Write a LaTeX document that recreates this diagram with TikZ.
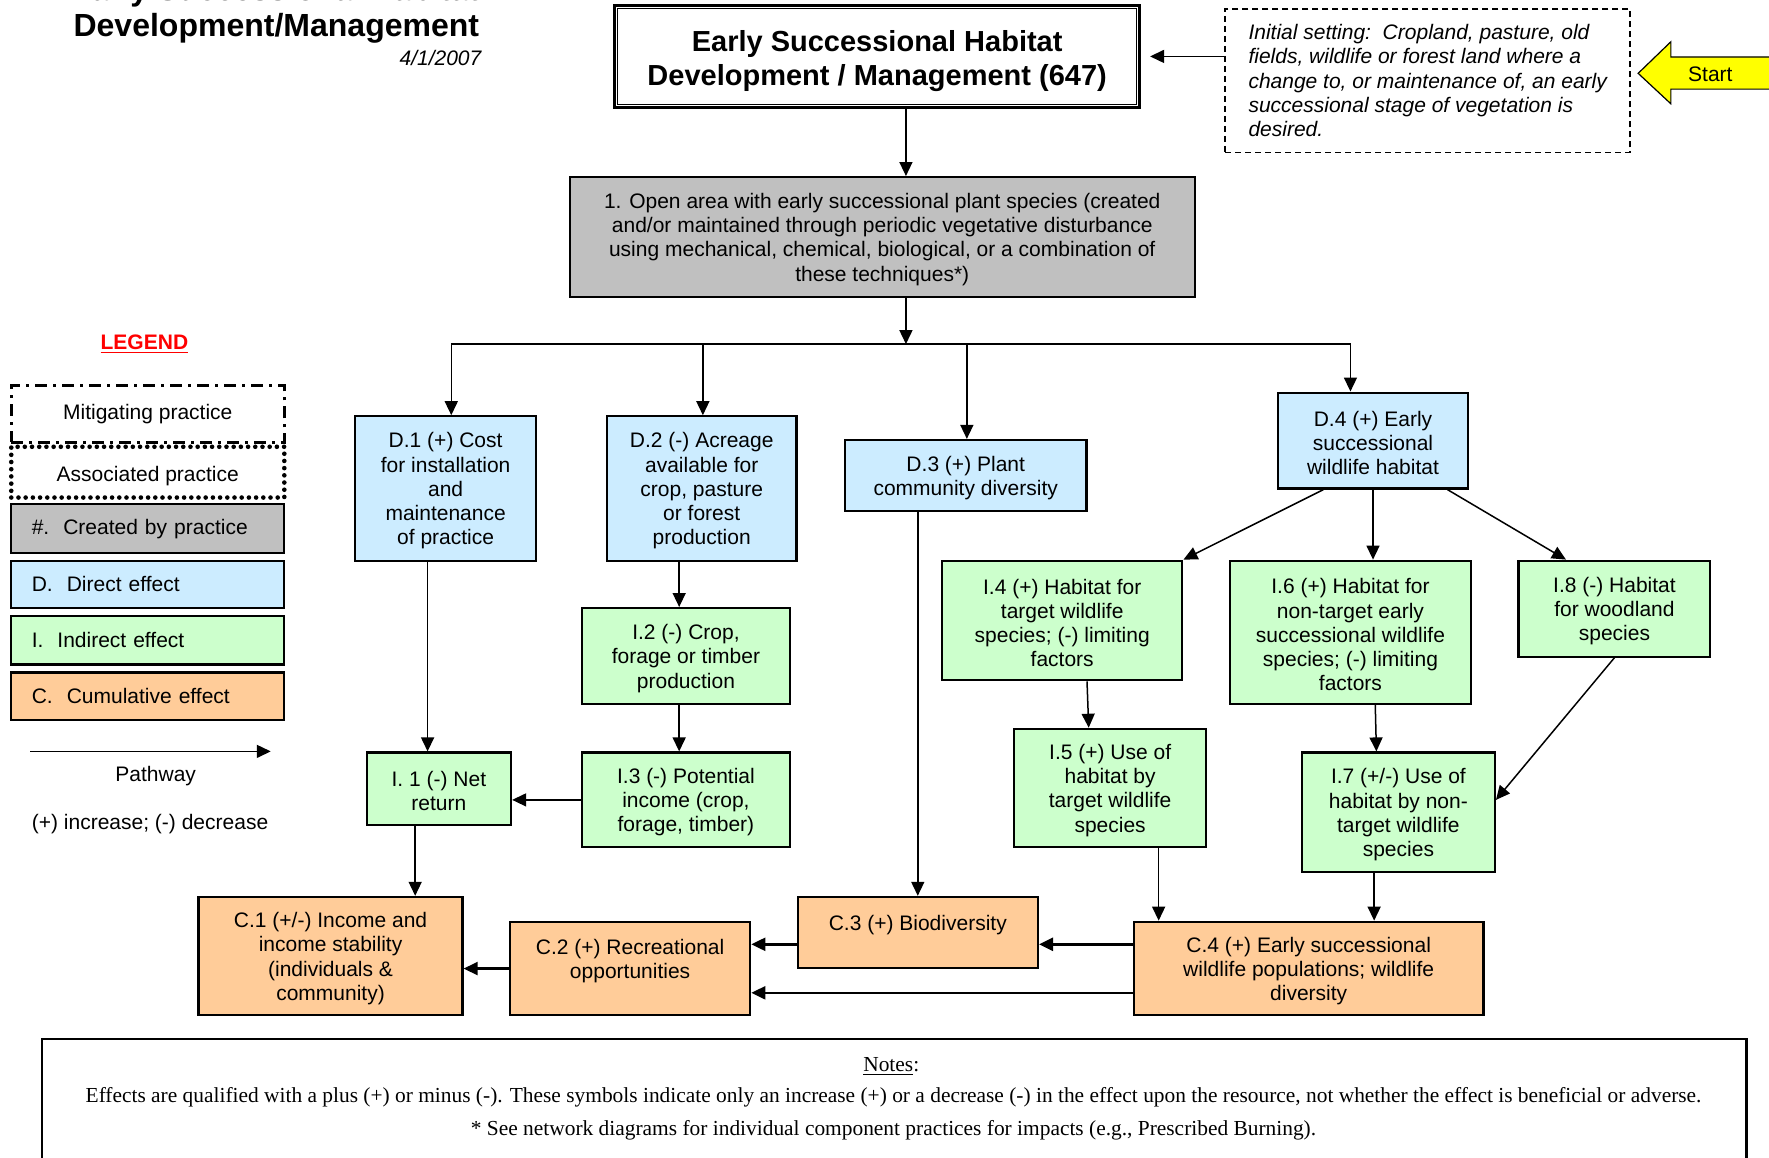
\documentclass[tikz,border=0pt]{standalone}
\usepackage{fontspec}
\setmainfont{Liberation Sans}
\newfontfamily\notesfont{Liberation Serif}
\usetikzlibrary{arrows.meta}
\definecolor{grayfill}{HTML}{C0C0C0}
\definecolor{bluefill}{HTML}{CCECFF}
\definecolor{greenfill}{HTML}{CCFFCC}
\definecolor{orangefill}{HTML}{FFCC99}
\definecolor{legendred}{HTML}{FF0000}
\definecolor{startyellow}{HTML}{FFFF00}
% one drawing unit in points
\newcommand\px[1]{#1*0.564pt}
% a taller first line pushes a text block slightly downwards
\newcommand\dropline[1][10pt]{\rule{0pt}{#1}}
\tikzset{
  x=0.564pt, y=-0.564pt,
  basefont/.style={font=\fontsize{10.5}{12.1}\selectfont},
  box/.style args={#1/#2/#3/#4}{draw, line width=1.1pt, inner sep=0pt, align=center, basefont,
    minimum width={(#3-#1)*0.564pt}, minimum height={(#4-#2)*0.564pt},
    at={({(#1+#3)/2},{(#2+#4)/2})}},
  created/.style={box=#1, fill=grayfill},
  direct/.style={box=#1, fill=bluefill},
  indirect/.style={box=#1, fill=greenfill},
  cumul/.style={box=#1, fill=orangefill},
  legbox/.style={draw, line width=1.1pt, minimum width=136.5pt, inner sep=0pt, basefont},
  legleft/.style={legbox, text width=116pt, inner xsep=10.25pt, align=left},
  arr/.style={line width=0.75pt, -{Triangle[length=7pt,width=6.5pt]}},
  arrthick/.style={line width=1.2pt, -{Triangle[length=7pt,width=6.5pt]}},
  plain/.style={basefont, inner sep=0pt},
  notetext/.style={inner sep=0pt, font=\notesfont\fontsize{10.7}{12.5}\selectfont},
}
\begin{document}
\begin{tikzpicture}
\useasboundingbox (0,0) rectangle (1568,1026);
\clip (0,0) rectangle (1568,1026);
\fill[white] (0,0) rectangle (1568,1026);

% heading at the top left
\node[anchor=south east, align=right, inner sep=0pt, font=\bfseries\fontsize{16}{18.4}\selectfont] (maintitle) at (425,39)
  {Early Successional Habitat\\Development/Management};
\node[anchor=east, inner sep=0pt, font=\itshape\fontsize{10.5}{12}\selectfont] (date) at (427,51) {4/1/2007};

% practice and setting
\node[box=545/5/1010/95, line width=1.6pt, font=\bfseries\fontsize{14.5}{17}\selectfont] (title)
  {\dropline[15pt]Early Successional Habitat\\Development / Management (647)};
\draw[line width=0.7pt] ([shift={(\px{4},\px{-4})}]title.north west) rectangle ([shift={(\px{-4},\px{4})}]title.south east);
\node[box=1086/8/1445/135, line width=0.8pt, dash pattern=on 3pt off 2pt, align=left, font=\itshape\fontsize{10.5}{12.1}\selectfont] (init)
  {Initial setting:\ \ Cropland, pasture, old\\fields, wildlife or forest land where a\\change to, or maintenance of, an early\\successional stage of vegetation is\\desired.};

% start arrow
\draw[fill=startyellow, line width=0.6pt] (1452,65) -- (1481,37) -- (1481,50.5) -- (1580,50.5) -- (1580,79) -- (1481,79) -- (1481,92) -- cycle;
\node[plain] (start) at (1516,66) {Start};

% created by practice
\node[created=505/157/1059/263] (n1)
  {\dropline 1. Open area with early successional plant species (created\\and/or maintained through periodic vegetative disturbance\\using mechanical, chemical, biological, or a combination of\\these techniques*)};

% direct effects
\node[direct=315/369/475/497] (d1) {\dropline D.1 (+) Cost\\for installation\\and\\maintenance\\of practice};
\node[direct=538/369/706/497] (d2) {\dropline D.2 (-) Acreage\\available for\\crop, pasture\\or forest\\production};
\node[direct=749/390/963/453] (d3) {\dropline D.3 (+) Plant\\community diversity};
\node[direct=1133/348/1301/433] (d4) {\dropline D.4 (+) Early\\successional\\wildlife habitat};

% indirect effects
\node[indirect=325/667/453/731] (i1) {\dropline I. 1 (-) Net\\return};
\node[indirect=516/539/700/624] (i2) {\dropline I.2 (-) Crop,\\forage or timber\\production};
\node[indirect=516/667/700/751] (i3) {\dropline I.3 (-) Potential\\income (crop,\\forage, timber)};
\node[indirect=835/497/1048/603] (i4) {\dropline I.4 (+) Habitat for\\target wildlife\\species; (-) limiting\\factors};
\node[indirect=899/646/1069/751] (i5) {\dropline I.5 (+) Use of\\habitat by\\target wildlife\\species};
\node[indirect=1090/497/1304/624] (i6) {\dropline I.6 (+) Habitat for\\non-target early\\successional wildlife\\species; (-) limiting\\factors};
\node[indirect=1154/667/1325/773] (i7) {\dropline I.7 (+/-) Use of\\habitat by non-\\target wildlife\\species};
\node[indirect=1346/497/1516/582] (i8) {\dropline I.8 (-) Habitat\\for woodland\\species};

% cumulative effects
\node[cumul=176/795/410/900] (c1) {\dropline C.1 (+/-) Income and\\income stability\\(individuals \&\\community)};
\node[cumul=452/817/665/900] (c2) {\dropline C.2 (+) Recreational\\opportunities\\\phantom{x}};
\node[cumul=707/795/920/858] (c3) {\dropline C.3 (+) Biodiversity\\\phantom{x}};
\node[cumul=1005/817/1315/900] (c4) {\dropline C.4 (+) Early successional\\wildlife populations; wildlife\\diversity};

% helper coordinates for connector routes
\coordinate (bus) at (803,305);
\coordinate (cx803) at (803,0);
\coordinate (cx379) at (379,0);
\coordinate (cx602) at (602,0);
\coordinate (cx368) at (368,0);
\coordinate (cx1027) at (1027,0);
\coordinate (cx1218) at (1218,0);
\coordinate (cy837) at (0,837);
\coordinate (cy880) at (0,880);

% connectors
\draw[arr] (init.west |- title.east) -- ([xshift=\px{8}]title.east);
\draw[arr] (title.south -| cx803) -- (n1.north -| cx803);
\draw[arr] (n1.south -| cx803) -- (bus);
\draw[arr] (bus) -| ([xshift=\px{5}]d1.north);
\draw[arr] (bus) -| ([xshift=\px{1}]d2.north);
\draw[arr] (bus) -| ([xshift=\px{1}]d3.north);
\draw[arr] (bus) -| ([xshift=\px{-20}]d4.north);

\draw[arr] (d1.south -| cx379) -- (i1.north -| cx379);
\draw[arr] (d2.south -| cx602) -- (i2.north -| cx602);
\draw[arr] (i2.south -| cx602) -- (i3.north -| cx602);
\draw[arr] (i3.west) -- (i3.west -| i1.east);
\draw[arr] (i1.south -| cx368) -- (c1.north -| cx368);
\draw[arr] (d3.south -| c3.north) -- (c3.north);

\draw[arr] ([xshift=\px{-44}]d4.south) -- (i4.north east);
\draw[arr] (d4.south) -- (d4.south |- i6.north);
\draw[arr] ([xshift=\px{66}]d4.south) -- ([xshift=\px{-43}]i8.north);
\draw[arr] ([xshift=\px{22}]i4.south) -- ([xshift=\px{-19}]i5.north);
\draw[arr] ([xshift=\px{22}]i6.south) -- ([xshift=\px{-19.5}]i7.north);
\draw[arr] (i8.south) -- ([yshift=\px{11}]i7.east);
\draw[arr] (i5.south -| cx1027) -- (c4.north -| cx1027);
\draw[arr] (i7.south -| cx1218) -- (c4.north -| cx1218);

\draw[arrthick] (c4.west |- cy837) -- (c3.east |- cy837);
\draw[arrthick] (c3.west |- cy837) -- (c2.east |- cy837);
\draw[arrthick] (c4.west |- cy880) -- (c2.east |- cy880);
\draw[arrthick] (c2.west) -- (c2.west -| c1.east);

% legend
\node[font=\bfseries\fontsize{10.5}{12}\selectfont, text=legendred, inner sep=0pt] (legend) at (128,305) {\underline{LEGEND}};
\node[legbox, line width=1.5pt, dash pattern=on 6pt off 3pt on 1.5pt off 3pt, minimum height=\px{50}] (lmit) at (131,367) {Mitigating practice};
\node[legbox, line width=2.3pt, dash pattern=on 0pt off 3.6pt, line cap=round, minimum height=\px{45}] (lass) at (131,418.5) {\dropline[12pt]Associated practice};
\node[legleft, fill=grayfill, minimum height=\px{43}] (lcre) at (131,468.5) {\#.\ \ Created by practice};
\node[legleft, fill=bluefill, minimum height=\px{42}] (ldir) at (131,518) {D.\ \ Direct effect};
\node[legleft, fill=greenfill, minimum height=\px{43}] (lind) at (131,567.5) {I.\ \ Indirect effect};
\node[legleft, fill=orangefill, minimum height=\px{42}] (lcum) at (131,617) {C.\ \ Cumulative effect};
\coordinate (pwa) at (27,666);
\coordinate (pwb) at (240,666);
\draw[arr] (pwa) -- (pwb);
\node[plain] (pwlabel) at (138,688) {Pathway};
\node[plain] (pmlabel) at (133,730) {(+) increase; (-) decrease};

% notes
\node[box=37/921/1548/1100, line width=1.2pt] (notes) {};
\node[notetext] (ntitle) at (790,945) {\underline{Notes}:};
\node[notetext] (nline1) at (792,973)
  {Effects are qualified with a plus (+) or minus (-). These symbols indicate only an increase (+) or a decrease (-) in the effect upon the resource, not whether the effect is beneficial or adverse.};
\node[notetext] (nline2) at (792,1002)
  {* See network diagrams for individual component practices for impacts (e.g., Prescribed Burning).};
\end{tikzpicture}
\end{document}
